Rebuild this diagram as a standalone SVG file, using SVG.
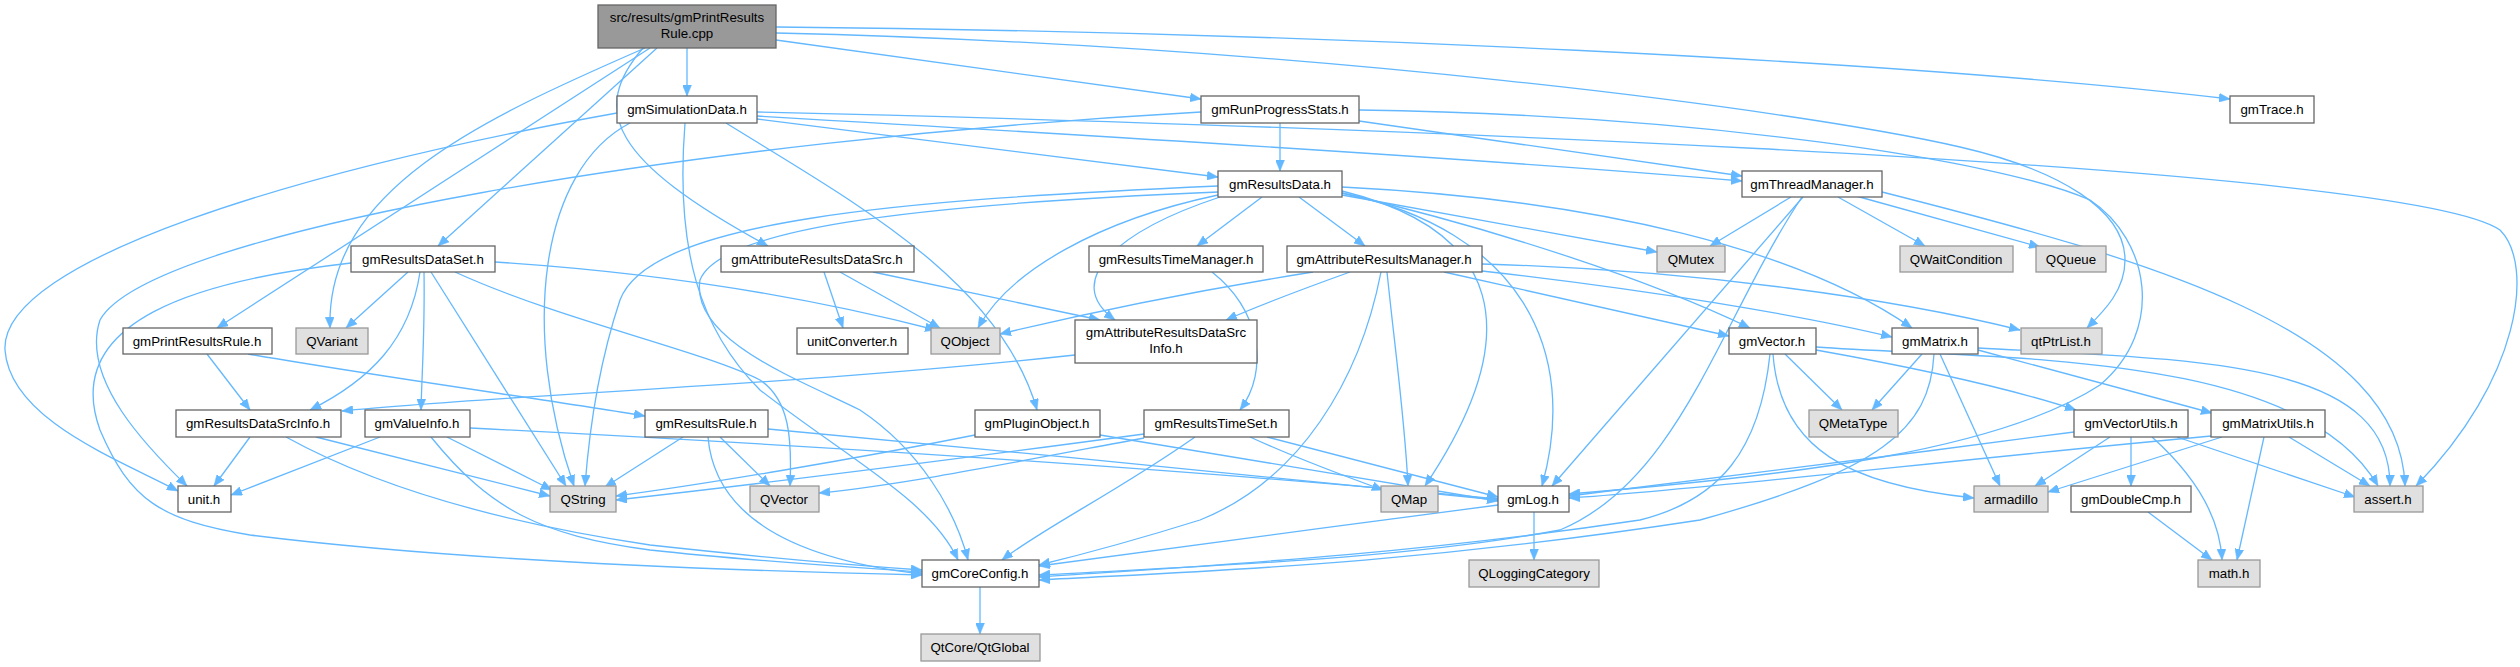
<svg xmlns="http://www.w3.org/2000/svg" width="2520" height="667" viewBox="0 0 2520 667">
<style>
.n rect{fill:#ffffff;stroke:#666666;stroke-width:1.3}
.g rect{fill:#e0e0e0;stroke:#999999;stroke-width:1.3}
.r rect{fill:#999999;stroke:#666666;stroke-width:1.3}
text{font-family:"Liberation Sans",Arial,sans-serif;font-size:13.3px;fill:#000;text-anchor:middle}
#edges path{fill:none;stroke:#63b8ff;stroke-width:1.3;marker-end:url(#ah)}
</style>
<defs>
<marker id="ah" markerUnits="userSpaceOnUse" markerWidth="12" markerHeight="9" refX="11" refY="4.5" orient="auto">
<path d="M0,0 L11,4.5 L0,9 z" fill="#63b8ff" stroke="#63b8ff" stroke-width="0.5"/>
</marker>
</defs>
<rect width="2520" height="667" fill="#ffffff"/>
<g id="edges">
<path d="M687,48 L687,96"/>
<path d="M776,40 L1201,99"/>
<path d="M776,27 C1300,32 1900,60 2230,99"/>
<path d="M776,33 C1300,45 1800,110 1960,147 C2060,170 2125,210 2125,260 C2125,290 2105,310 2087,328"/>
<path d="M1359,110 C1700,115 2000,160 2090,200 C2150,240 2165,330 2100,385 C2000,450 1800,475 1569,494"/>
<path d="M657,48 L438,246"/>
<path d="M650,48 L217,328"/>
<path d="M645,48 C480,120 326,190 330,328"/>
<path d="M643,48 C590,110 610,160 768,246"/>
<path d="M757,119 L1218,177"/>
<path d="M757,116 C1000,130 1500,160 1742,181"/>
<path d="M757,112 C1200,122 2400,160 2500,230 C2535,265 2520,380 2416,486"/>
<path d="M685,123 C675,250 700,330 760,390 C850,460 930,500 958,560"/>
<path d="M726,123 C850,200 1000,280 1037,410"/>
<path d="M630,123 C540,170 520,330 574,486"/>
<path d="M617,113 C300,170 0,260 5,350 C10,420 120,460 178,491"/>
<path d="M1280,123 L1280,171"/>
<path d="M1359,121 L1742,176"/>
<path d="M1201,112 C700,140 150,230 100,320 C80,380 150,450 187,486"/>
<path d="M408,272 L346,328"/>
<path d="M420,272 C410,340 370,380 310,410"/>
<path d="M424,272 C425,330 422,370 421,410"/>
<path d="M431,272 L566,486"/>
<path d="M455,272 C560,320 700,350 760,380 C790,400 792,440 790,486"/>
<path d="M495,262 C650,272 800,295 936,330"/>
<path d="M351,263 C200,280 60,320 100,430 C130,500 160,520 250,535 C450,560 700,570 922,575"/>
<path d="M207,354 L250,410"/>
<path d="M248,354 C400,380 550,400 645,416"/>
<path d="M250,437 L214,486"/>
<path d="M316,437 L550,496"/>
<path d="M286,437 C400,500 550,530 650,545 C750,556 850,565 922,570"/>
<path d="M380,437 L231,495"/>
<path d="M447,437 L552,490"/>
<path d="M431,437 C490,510 540,535 650,550 C750,561 850,567 922,572"/>
<path d="M470,428 C800,445 1200,470 1498,499"/>
<path d="M1075,355 C800,385 500,395 342,411"/>
<path d="M683,437 L605,487"/>
<path d="M720,437 L770,486"/>
<path d="M708,437 C715,520 800,560 922,574"/>
<path d="M768,429 C1000,450 1300,480 1498,500"/>
<path d="M975,435 C850,460 700,485 616,496"/>
<path d="M1100,435 C1250,460 1400,485 1498,501"/>
<path d="M1144,434 C950,460 750,485 616,500"/>
<path d="M1144,438 C1000,465 900,485 819,493"/>
<path d="M1195,437 C1120,490 1040,530 1002,560"/>
<path d="M1250,437 C1300,460 1350,478 1383,490"/>
<path d="M1267,437 L1498,497"/>
<path d="M1212,272 C1260,310 1270,370 1240,410"/>
<path d="M1262,197 L1197,246"/>
<path d="M1299,197 L1365,246"/>
<path d="M1342,195 L1657,252"/>
<path d="M1342,193 C1500,230 1650,280 1750,328"/>
<path d="M1342,187 C1600,200 1800,250 1912,328"/>
<path d="M1342,191 C1500,230 1530,330 1425,486"/>
<path d="M1342,193 C1520,230 1580,350 1542,486"/>
<path d="M1218,195 C1100,220 1010,270 978,328"/>
<path d="M1220,197 C1120,230 1060,280 1115,320"/>
<path d="M1218,186 C900,200 650,220 620,300 C600,360 590,420 585,486"/>
<path d="M1218,192 C900,205 720,230 700,280 C690,340 800,380 860,410 C920,450 955,510 968,560"/>
<path d="M824,272 L843,328"/>
<path d="M840,272 L940,328"/>
<path d="M873,272 L1100,320"/>
<path d="M1313,272 C1200,290 1100,310 1000,334"/>
<path d="M1350,272 C1300,290 1260,305 1226,320"/>
<path d="M1387,272 C1395,350 1405,420 1408,486"/>
<path d="M1381,272 C1360,380 1300,480 1200,520 C1120,545 1080,555 1039,565"/>
<path d="M1444,272 L1729,336"/>
<path d="M1482,271 C1650,290 1800,315 1892,337"/>
<path d="M1482,264 C1700,270 1900,300 2020,330"/>
<path d="M1791,197 L1710,246"/>
<path d="M1803,197 L1552,486"/>
<path d="M1802,197 C1720,320 1680,480 1560,530 C1400,560 1200,566 1039,575"/>
<path d="M1838,197 L1925,246"/>
<path d="M1856,196 L2040,247"/>
<path d="M1882,192 C2150,260 2400,330 2405,486"/>
<path d="M1785,354 L1842,410"/>
<path d="M1773,354 C1780,450 1850,485 1974,498"/>
<path d="M1770,354 C1760,450 1720,500 1640,520 C1400,556 1200,566 1039,577"/>
<path d="M1816,350 C1900,365 2000,385 2076,410"/>
<path d="M1816,347 C2000,360 2300,350 2378,486"/>
<path d="M1922,354 L1872,410"/>
<path d="M1940,354 L2000,486"/>
<path d="M1934,354 C1930,430 1880,470 1700,520 C1400,566 1200,571 1039,580"/>
<path d="M1978,350 L2212,413"/>
<path d="M1978,348 C2200,360 2390,360 2390,486"/>
<path d="M2074,432 C1900,455 1700,480 1569,496"/>
<path d="M2110,437 L2035,486"/>
<path d="M2131,437 L2131,486"/>
<path d="M2152,437 C2200,480 2220,520 2222,560"/>
<path d="M2177,437 L2355,497"/>
<path d="M2211,436 C1950,460 1700,490 1569,498"/>
<path d="M2222,437 L2048,492"/>
<path d="M2264,437 L2237,560"/>
<path d="M2289,437 L2370,486"/>
<path d="M2148,512 L2212,560"/>
<path d="M1534,512 L1534,560"/>
<path d="M1498,505 C1350,525 1150,550 1039,566"/>
<path d="M980,587 L980,634"/>
</g>
<g id="root" class="r"><rect x="598" y="5" width="178" height="43"/><text x="687" y="22">src/results/gmPrintResults</text><text x="687" y="38">Rule.cpp</text></g>
<g id="gmSimulationData" class="n"><rect x="617" y="96" width="140" height="27"/><text x="687" y="114">gmSimulationData.h</text></g>
<g id="gmRunProgressStats" class="n"><rect x="1201" y="96" width="158" height="27"/><text x="1280" y="114">gmRunProgressStats.h</text></g>
<g id="gmTrace" class="n"><rect x="2230" y="96" width="84" height="27"/><text x="2272" y="114">gmTrace.h</text></g>
<g id="gmResultsData" class="n"><rect x="1218" y="171" width="124" height="26"/><text x="1280" y="189">gmResultsData.h</text></g>
<g id="gmThreadManager" class="n"><rect x="1742" y="171" width="140" height="26"/><text x="1812" y="189">gmThreadManager.h</text></g>
<g id="gmResultsDataSet" class="n"><rect x="351" y="246" width="144" height="26"/><text x="423" y="264">gmResultsDataSet.h</text></g>
<g id="gmAttributeResultsDataSrc" class="n"><rect x="721" y="246" width="193" height="26"/><text x="817" y="264">gmAttributeResultsDataSrc.h</text></g>
<g id="gmResultsTimeManager" class="n"><rect x="1089" y="246" width="174" height="26"/><text x="1176" y="264">gmResultsTimeManager.h</text></g>
<g id="gmAttributeResultsManager" class="n"><rect x="1287" y="246" width="195" height="26"/><text x="1384" y="264">gmAttributeResultsManager.h</text></g>
<g id="QMutex" class="g"><rect x="1657" y="246" width="68" height="26"/><text x="1691" y="264">QMutex</text></g>
<g id="QWaitCondition" class="g"><rect x="1900" y="246" width="113" height="26"/><text x="1956" y="264">QWaitCondition</text></g>
<g id="QQueue" class="g"><rect x="2036" y="246" width="70" height="26"/><text x="2071" y="264">QQueue</text></g>
<g id="gmPrintResultsRule" class="n"><rect x="123" y="328" width="149" height="26"/><text x="197" y="346">gmPrintResultsRule.h</text></g>
<g id="QVariant" class="g"><rect x="296" y="328" width="72" height="26"/><text x="332" y="346">QVariant</text></g>
<g id="unitConverter" class="n"><rect x="797" y="328" width="111" height="26"/><text x="852" y="346">unitConverter.h</text></g>
<g id="QObject" class="g"><rect x="931" y="328" width="69" height="26"/><text x="965" y="346">QObject</text></g>
<g id="gmAttributeResultsDataSrcInfo" class="n"><rect x="1075" y="320" width="182" height="43"/><text x="1166" y="337">gmAttributeResultsDataSrc</text><text x="1166" y="353">Info.h</text></g>
<g id="gmVector" class="n"><rect x="1729" y="328" width="87" height="26"/><text x="1772" y="346">gmVector.h</text></g>
<g id="gmMatrix" class="n"><rect x="1892" y="328" width="86" height="26"/><text x="1935" y="346">gmMatrix.h</text></g>
<g id="qtPtrList" class="g"><rect x="2021" y="328" width="81" height="26"/><text x="2061" y="346">qtPtrList.h</text></g>
<g id="gmResultsDataSrcInfo" class="n"><rect x="176" y="410" width="165" height="27"/><text x="258" y="428">gmResultsDataSrcInfo.h</text></g>
<g id="gmValueInfo" class="n"><rect x="365" y="410" width="105" height="27"/><text x="417" y="428">gmValueInfo.h</text></g>
<g id="gmResultsRule" class="n"><rect x="645" y="410" width="123" height="27"/><text x="706" y="428">gmResultsRule.h</text></g>
<g id="gmPluginObject" class="n"><rect x="975" y="410" width="125" height="27"/><text x="1037" y="428">gmPluginObject.h</text></g>
<g id="gmResultsTimeSet" class="n"><rect x="1144" y="410" width="145" height="27"/><text x="1216" y="428">gmResultsTimeSet.h</text></g>
<g id="QMetaType" class="g"><rect x="1809" y="410" width="89" height="27"/><text x="1853" y="428">QMetaType</text></g>
<g id="gmVectorUtils" class="n"><rect x="2074" y="410" width="114" height="27"/><text x="2131" y="428">gmVectorUtils.h</text></g>
<g id="gmMatrixUtils" class="n"><rect x="2211" y="410" width="114" height="27"/><text x="2268" y="428">gmMatrixUtils.h</text></g>
<g id="unit" class="n"><rect x="178" y="486" width="53" height="26"/><text x="204" y="504">unit.h</text></g>
<g id="QString" class="g"><rect x="550" y="486" width="66" height="26"/><text x="583" y="504">QString</text></g>
<g id="QVector" class="g"><rect x="750" y="486" width="69" height="26"/><text x="784" y="504">QVector</text></g>
<g id="QMap" class="g"><rect x="1381" y="486" width="57" height="26"/><text x="1409" y="504">QMap</text></g>
<g id="gmLog" class="n"><rect x="1498" y="486" width="71" height="26"/><text x="1533" y="504">gmLog.h</text></g>
<g id="armadillo" class="g"><rect x="1974" y="486" width="74" height="26"/><text x="2011" y="504">armadillo</text></g>
<g id="gmDoubleCmp" class="n"><rect x="2071" y="486" width="120" height="26"/><text x="2131" y="504">gmDoubleCmp.h</text></g>
<g id="assert" class="g"><rect x="2354" y="486" width="69" height="26"/><text x="2388" y="504">assert.h</text></g>
<g id="gmCoreConfig" class="n"><rect x="922" y="560" width="117" height="27"/><text x="980" y="578">gmCoreConfig.h</text></g>
<g id="QLoggingCategory" class="g"><rect x="1469" y="560" width="130" height="27"/><text x="1534" y="578">QLoggingCategory</text></g>
<g id="math" class="g"><rect x="2198" y="560" width="62" height="27"/><text x="2229" y="578">math.h</text></g>
<g id="QtGlobal" class="g"><rect x="921" y="634" width="119" height="27"/><text x="980" y="652">QtCore/QtGlobal</text></g>
</svg>
